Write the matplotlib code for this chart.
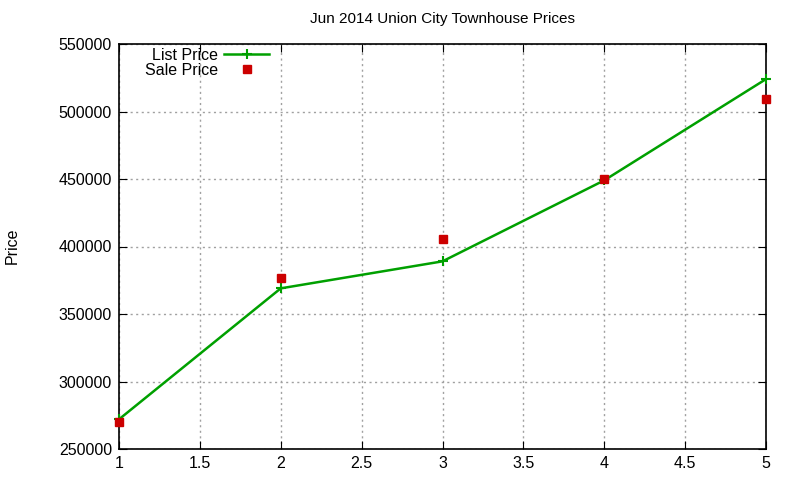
import matplotlib
matplotlib.use("Agg")
import matplotlib.pyplot as plt

months = [1, 2, 3, 4, 5]
listPrice = [272000, 369000, 389000, 449000, 524000]
salePrice = [270000, 377000, 405500, 450000, 509500]

plt.rcParams['font.family'] = ['Liberation Sans', 'DejaVu Sans']

fig = plt.figure(figsize=(8, 4.8), dpi=100)
ax = fig.add_axes([119/800, 1 - 449/480, (766-119)/800, (449-44)/480])

ax.plot(months, listPrice, color="#00a000", linewidth=1.8, marker="+",
        markersize=7, markeredgewidth=1.5, label="List Price", clip_on=False, zorder=3)
ax.plot(months, salePrice, linestyle="none", color="#cc0000", marker="s",
        markersize=6, label="Sale Price", clip_on=False, zorder=4)

ax.set_xlim(1, 5)
ax.set_ylim(250000, 550000)
ax.set_xticks([1, 1.5, 2, 2.5, 3, 3.5, 4, 4.5, 5])
ax.set_xticklabels(["1", "1.5", "2", "2.5", "3", "3.5", "4", "4.5", "5"])
ax.set_yticks(range(250000, 550001, 50000))
ax.set_yticklabels([str(v) for v in range(250000, 550001, 50000)])
ax.tick_params(direction="in", top=True, right=True, labelsize=11.5, length=6, pad=5)
ax.grid(True, linestyle=(0, (1.5, 2.5)), color="#a0a0a0", linewidth=1)
for s in ax.spines.values():
  s.set_linewidth(1.2)

ax.set_title("Jun 2014 Union City Townhouse Prices", fontsize=11, pad=15)
fig.text(12/800, 1 - 246/480, "Price", rotation=90, fontsize=11.5, ha="center", va="center")

ax.legend(loc="upper left", bbox_to_anchor=(0.025, 1.015), frameon=False, markerfirst=False,
          fontsize=11.5, handlelength=2.8, handletextpad=0.4, labelspacing=0.0,
          borderaxespad=0.2)

fig.savefig("out.png", dpi=100)
